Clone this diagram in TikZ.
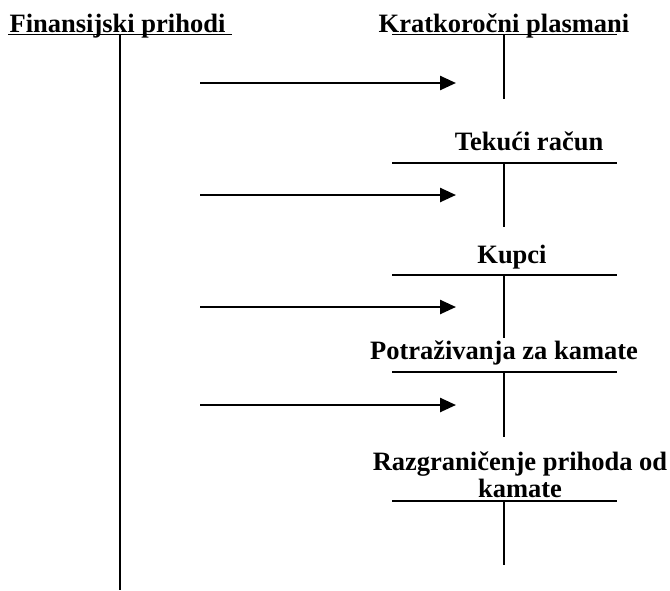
\documentclass[tikz,border=0pt]{standalone}
\usepackage{fontspec}
\setmainfont{Liberation Serif}
\usetikzlibrary{arrows.meta}
\begin{document}
\begin{tikzpicture}[x=1pt,y=-1pt,
  lbl/.style={font=\fontsize{26.5}{27}\selectfont\bfseries, anchor=base, inner sep=0pt},
  tline/.style={line width=1.8pt},
  vline/.style={line width=1.9pt},
  flow/.style={line width=2.5pt, -{Triangle[length=16pt,width=14pt]}}]
\useasboundingbox (0,0) rectangle (670,590);
% titles
\node[lbl] (fin) at (117.5,32) {Finansijski prihodi};
\node[lbl] (kp) at (504,32) {Kratkoročni plasmani};
\node[lbl] (tr) at (529,150) {Tekući račun};
\node[lbl] (ku) at (512,263) {Kupci};
\node[lbl] (pk) at (504,359) {Potraživanja za kamate};
\node[lbl] (rz1) at (520,470) {Razgraničenje prihoda od};
\node[lbl] (rz2) at (520,497) {kamate};
% Finansijski prihodi account
\coordinate (finL) at (8,34.5);
\coordinate (finR) at (232,34.5);
\coordinate (finT) at (120,34.5);
\coordinate (finB) at (120,590);
\draw[tline] (finL) -- (finR);
\draw[line width=2.3pt] (finT) -- (finB);
% right accounts
\foreach \n/\y/\b in {kp/34.5/99, tr/163/227, ku/275/338, pk/372/437, rz/501/565}{
  \coordinate (\n L) at (392,\y);
  \coordinate (\n R) at (617,\y);
  \coordinate (\n T) at (504,\y);
  \coordinate (\n B) at (504,\b);
  \draw[tline] (\n L) -- (\n R);
  \draw[vline] (\n T) -- (\n B);
}
% arrows
\foreach \i/\y in {1/83, 2/195, 3/307, 4/405}{
  \coordinate (s\i) at (200,\y);
  \coordinate (e\i) at (456,\y);
  \draw[flow] (s\i) -- (e\i);
}
\end{tikzpicture}
\end{document}
